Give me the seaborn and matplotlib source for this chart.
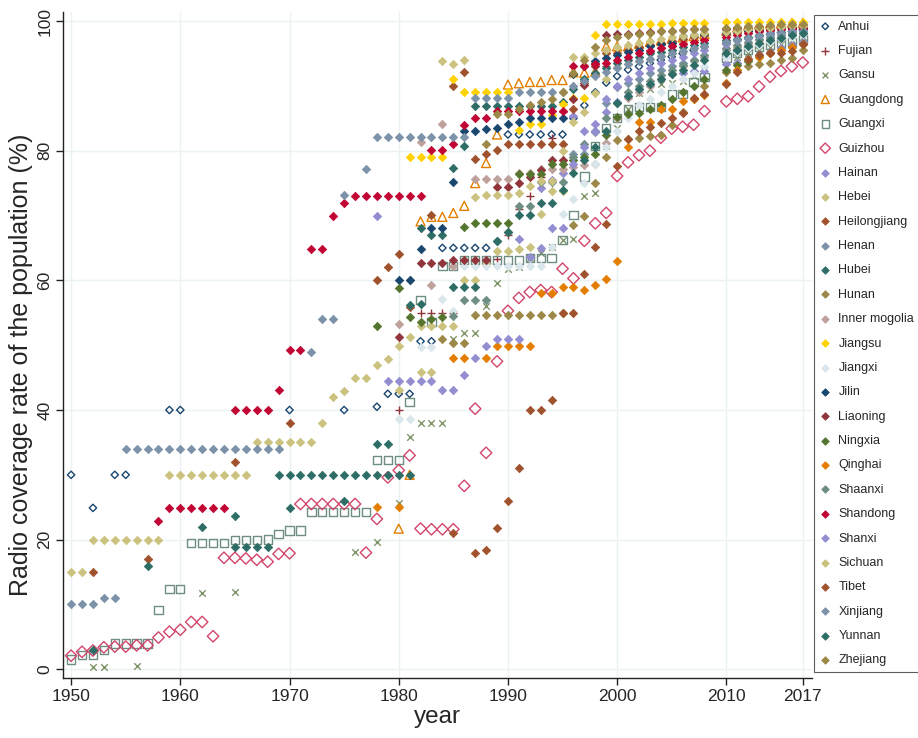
import matplotlib
matplotlib.use("Agg")
import matplotlib.pyplot as plt
import seaborn as sns

sns.set_theme(style="white")
plt.rcParams['font.family'] = ['Liberation Sans', 'DejaVu Sans']

EARLY = list(range(1950, 2009))
LATE = list(range(2010, 2018))

# ---------------- data: radio coverage rate (%) by province ----------------
anhui_yr = [1950, 1952, 1954, 1955, 1959, 1960, 1970, 1975, 1978, 1979, 1980, 1981,
            1982, 1983, 1984, 1985, 1986, 1987, 1988, 1990, 1991, 1992, 1993, 1994,
            1995, 1996, 1997, 1998, 1999, 2000, 2001, 2002, 2003, 2004, 2005, 2006,
            2007, 2008] + LATE
anhui_pct = [30.0, 24.9, 30.0, 30.0, 40.0, 40.0, 40.0, 40.0, 40.5, 42.5, 42.5, 42.5,
             50.6, 50.6, 65.0, 65.0, 65.0, 65.0, 65.0, 82.5, 82.5, 82.5, 82.5, 82.5,
             82.5, 85.0, 87.0, 89.0, 90.5, 91.5, 92.5, 93.0, 93.5, 94.0, 94.5, 95.0,
             95.5, 96.0, 96.5, 97.0, 97.3, 97.6, 97.9, 98.2, 98.4, 98.6]

fujian_yr = [1980, 1982, 1983, 1984, 1985, 1989, 1990, 1991, 1992, 1993, 1994, 1995,
             1996, 1997, 1998, 1999, 2000, 2001, 2002, 2003, 2004, 2005, 2006, 2007,
             2008] + LATE
fujian_pct = [40.0, 55.0, 55.0, 55.0, 55.0, 63.3, 67.0, 71.0, 73.0, 76.0, 82.0, 86.0,
              90.0, 90.9, 92.0, 93.0, 94.0, 94.5, 95.0, 95.5, 96.0, 96.3, 96.6, 97.0,
              97.3, 97.6, 97.9, 98.1, 98.3, 98.5, 98.7, 98.9, 99.0]

gansu_yr = [1952, 1953, 1956, 1962, 1965, 1976, 1978, 1980, 1981, 1982, 1983, 1984,
            1985, 1986, 1987, 1988, 1989, 1990, 1991, 1992, 1993, 1994, 1995, 1996,
            1997, 1998, 1999, 2000, 2001, 2002, 2003, 2004, 2005, 2006, 2007,
            2008] + LATE
gansu_pct = [0.4, 0.4, 0.5, 11.7, 11.9, 18.1, 19.6, 25.6, 35.9, 38.0, 38.0, 38.0,
             51.0, 51.9, 51.9, 56.0, 59.6, 61.8, 62.1, 63.5, 64.2, 65.2, 66.2, 66.4,
             73.0, 73.5, 80.7, 83.5, 86.5, 88.9, 89.5, 90.3, 90.5, 90.8, 91.5,
             92.5, 94.0, 94.5, 95.0, 95.5, 96.0, 96.5, 97.0, 97.5]

guangdong_yr = list(range(1980, 2009)) + LATE
guangdong_pct = [21.7, 30.0, 69.1, 69.8, 69.8, 70.4, 71.5, 75.0, 78.1, 82.5,
                 90.2, 90.4, 90.6, 90.6, 90.9, 90.9, 92.1, 92.0, 92.2, 96.1,
                 96.1, 96.1, 96.5, 96.8, 97.0, 97.3, 97.5, 97.7, 98.0,
                 98.5, 99.0, 99.3, 99.5, 99.6, 99.6, 99.7, 99.7]

guangxi_yr = EARLY + LATE
guangxi_pct = [1.5, 2.2, 2.2, 3.0, 4.0, 4.0, 4.0, 4.0, 9.1, 12.4,
               12.4, 19.5, 19.5, 19.5, 19.5, 19.9, 19.9, 19.9, 20.0, 20.9,
               21.4, 21.4, 24.3, 24.3, 24.3, 24.3, 24.3, 24.3, 32.3, 32.3,
               32.3, 41.2, 57.0, 53.6, 62.2, 62.2, 63.1, 63.1, 63.1, 63.1,
               63.1, 63.1, 63.4, 63.4, 63.4, 66.2, 70.1, 76.0, 80.7, 83.5,
               85.0, 86.4, 86.7, 86.7, 86.7, 88.7, 88.7, 90.6, 91.4,
               94.4, 95.1, 95.5, 96.0, 96.3, 96.7, 96.8, 97.2]

guizhou_yr = EARLY + LATE
guizhou_pct = [2.1, 2.7, 2.9, 3.4, 3.5, 3.5, 3.7, 3.7, 4.9, 5.8,
               6.1, 7.3, 7.3, 5.1, 17.2, 17.2, 17.1, 16.9, 16.6, 17.8,
               17.9, 25.5, 25.5, 25.5, 25.5, 25.5, 25.5, 18.0, 23.2, 29.6,
               30.7, 33.0, 21.7, 21.6, 21.6, 21.6, 28.3, 40.2, 33.4, 47.5,
               55.3, 57.3, 58.2, 58.5, 58.2, 61.8, 60.3, 66.1, 68.8, 70.4,
               76.1, 78.2, 79.3, 80.0, 82.0, 83.4, 83.7, 84.0, 86.1,
               87.6, 88.0, 88.4, 89.9, 91.4, 92.3, 93.0, 93.6]

hainan_yr = [1991] + list(range(1993, 2009)) + LATE
hainan_pct = [66.4, 74.2, 75.5, 76.5, 85.3, 83.1, 84.1, 85.9, 87.5, 88.5, 89.5,
              90.3, 91.0, 91.8, 92.0, 92.3, 92.3,
              93.4, 93.6, 94.2, 94.8, 95.3, 95.8, 96.3, 96.8]

hebei_yr = EARLY + LATE
hebei_pct = [15.0, 15.0, 20.0, 20.0, 20.0, 20.0, 20.0, 20.0, 20.0, 30.0,
             30.0, 30.0, 30.0, 30.0, 30.0, 30.0, 30.0, 35.0, 35.0, 35.0,
             35.0, 35.0, 35.0, 38.0, 42.0, 43.0, 45.0, 45.0, 47.0, 47.8,
             49.9, 51.2, 52.9, 52.9, 52.9, 52.9, 60.1, 60.1, 62.5, 64.5,
             64.5, 64.8, 65.2, 70.3, 73.8, 73.8, 84.5, 86.0, 88.9, 91.0,
             92.9, 93.3, 93.8, 94.2, 94.6, 95.0, 95.4, 95.8, 96.2,
             96.8, 97.2, 97.5, 97.8, 98.0, 98.3, 98.5, 98.7]

heilongjiang_yr = [1952, 1957, 1965, 1970, 1978, 1979, 1980, 1981, 1983] + \
    list(range(1985, 2009)) + LATE
heilongjiang_pct = [15.0, 17.0, 32.0, 38.0, 60.0, 62.0, 64.1, 55.9, 70.1,
                    90.0, 92.1, 78.7, 79.5, 80.1, 81.0, 81.0, 81.0, 81.0, 81.0,
                    81.0, 86.5, 90.5, 93.5, 95.0, 95.0, 95.5, 96.0, 96.3, 96.6,
                    96.9, 97.2, 97.5, 97.8,
                    98.0, 98.2, 98.4, 98.6, 98.8, 99.0, 99.1, 99.2]

henan_yr = list(range(1996, 2009)) + LATE
henan_pct = [79.5, 79.5, 82.9, 87.4, 89.9, 90.5, 91.0, 92.0, 92.5, 93.0, 93.5,
             94.0, 94.5, 95.5, 96.0, 96.5, 97.0, 97.3, 97.5, 97.8, 98.0]

hubei_yr = list(range(1965, 2009)) + LATE
hubei_pct = [18.9, 18.9, 18.9, 18.9, 30.0, 30.0, 30.0, 30.0, 30.0, 30.0,
             30.0, 30.0, 30.0, 30.0, 30.0, 30.0, 30.0, 68.0, 67.0, 67.0,
             77.4, 80.7, 86.9, 86.9, 86.9, 86.9, 86.9, 86.9, 86.9, 86.9,
             87.5, 89.5, 91.0, 92.0, 92.8, 93.5, 94.0, 94.5, 95.0, 95.3,
             95.6, 96.0, 96.3, 96.6,
             97.0, 97.3, 97.6, 97.9, 98.1, 98.3, 98.5, 98.7]

hunan_yr = list(range(1985, 2009)) + LATE
hunan_pct = [50.4, 50.4, 54.7, 54.7, 54.7, 54.7, 54.7, 54.7, 54.7, 54.7,
             55.0, 68.5, 70.0, 75.0, 79.0, 81.6, 81.8, 81.9, 82.2, 82.4,
             84.0, 86.0, 88.0, 90.0,
             92.2, 92.5, 93.0, 93.3, 93.6, 94.0, 94.3, 95.5]

inner_mongolia_yr = [1980, 1981, 1982, 1983, 1984, 1985] + list(range(1987, 2009)) + LATE
inner_mongolia_pct = [53.3, 60.0, 81.4, 59.3, 84.1, 62.2,
                      75.7, 75.7, 75.7, 75.7, 76.5, 76.5, 77.1, 77.1, 77.1, 77.5,
                      77.8, 77.9, 81.2, 85.0, 88.1, 89.0, 90.0, 91.0, 92.0, 93.0,
                      93.8, 94.5,
                      95.5, 96.0, 96.5, 97.0, 97.4, 97.8, 98.1, 98.4]

jiangsu_yr = list(range(1981, 2009)) + LATE
jiangsu_pct = [79.1, 79.1, 79.1, 79.1, 91.1, 89.1, 89.1, 89.1, 89.1, 89.1,
               83.2, 84.1, 84.1, 85.5, 87.2, 88.1, 88.1, 97.8, 99.5, 99.5,
               99.5, 99.6, 99.6, 99.6, 99.7, 99.7, 99.7, 99.7,
               99.8, 99.8, 99.8, 99.9, 99.9, 99.9, 99.9, 99.9]

jiangxi_yr = list(range(1980, 2009)) + LATE
jiangxi_pct = [38.6, 38.6, 49.7, 49.7, 57.1, 55.2, 62.2, 62.2, 62.2, 62.2,
               62.2, 62.2, 62.2, 62.2, 65.2, 70.3, 72.5, 75.0, 78.0, 80.5,
               83.0, 85.0, 87.0, 88.0, 89.0, 90.0, 91.0, 92.0, 93.0,
               94.5, 95.2, 95.8, 96.3, 96.8, 97.2, 97.6, 98.0]

jilin_yr = list(range(1980, 2009)) + LATE
jilin_pct = [60.1, 60.1, 64.9, 68.0, 68.0, 75.2, 83.1, 83.1, 83.3, 83.5,
             84.1, 84.4, 85.1, 85.1, 85.1, 85.1, 91.8, 93.1, 93.8, 94.3,
             94.8, 95.2, 95.6, 96.1, 96.4, 96.6, 97.7, 97.8, 98.0,
             98.2, 98.4, 98.5, 98.6, 98.7, 98.8, 98.9, 99.0]

liaoning_yr = [1980] + list(range(1982, 2009)) + LATE
liaoning_pct = [51.2, 62.6, 62.6, 62.6, 63.1, 63.1, 63.1, 63.1, 74.4, 74.4,
                75.0, 76.0, 77.0, 78.5, 78.5, 88.0, 90.1, 93.1, 97.8, 98.0,
                98.0, 98.2, 98.3, 98.4, 98.5, 98.6, 98.7, 98.8,
                98.8, 98.9, 99.0, 99.0, 99.1, 99.1, 99.2, 99.2]

ningxia_yr = [1978, 1980, 1981, 1982, 1983, 1984] + list(range(1986, 2009)) + LATE
ningxia_pct = [53.0, 58.8, 54.3, 53.6, 54.0, 54.3,
               68.3, 68.9, 68.8, 68.8, 68.8, 76.4, 76.4, 76.4, 78.0, 78.0,
               78.5, 79.0, 79.5, 82.4, 85.2, 85.7, 85.8, 86.5, 87.0, 88.0,
               89.0, 90.0, 91.0,
               92.5, 93.2, 93.8, 94.4, 95.0, 95.5, 96.0, 96.5]

qinghai_yr = [1978, 1980, 1985, 1986] + list(range(1988, 2009)) + LATE
qinghai_pct = [25.0, 25.0, 48.0, 48.0,
               48.0, 49.9, 49.9, 49.9, 49.9, 58.1, 58.1, 59.0, 59.0, 58.5,
               59.3, 60.2, 63.0, 80.6, 84.5, 84.5, 86.5, 86.5, 87.6, 88.0,
               88.6,
               90.4, 92.5, 94.1, 94.5, 95.0, 95.5, 96.0, 96.5]

shaanxi_yr = list(range(1985, 2009)) + LATE
shaanxi_pct = [54.5, 57.0, 57.0, 57.0, 66.0, 67.4, 71.5, 71.5, 75.1, 75.1,
               75.1, 79.0, 81.0, 83.0, 85.0, 87.4, 89.0, 90.0, 90.8, 91.6,
               92.4, 93.2, 94.0, 94.7,
               95.8, 96.3, 96.8, 97.2, 97.5, 97.8, 98.0, 98.2]

shandong_yr = list(range(1958, 2009)) + LATE
shandong_pct = [22.9, 24.9, 24.9, 24.9, 24.9, 24.9, 24.9, 40.0, 40.0, 40.0,
                40.0, 43.1, 49.2, 49.2, 64.9, 64.9, 70.0, 72.0, 73.0, 73.0,
                73.0, 73.0, 73.0, 73.0, 73.0, 80.1, 80.1, 81.0, 84.0, 85.0,
                85.0, 86.2, 86.2, 86.2, 86.2, 86.2, 86.2, 86.2, 93.0, 93.0,
                93.3, 93.6, 94.0, 94.5, 95.0, 95.4, 95.8, 96.2, 96.5, 96.8,
                97.1,
                97.6, 97.9, 98.2, 98.4, 98.6, 98.7, 98.8, 98.9]

shanxi_yr = list(range(1978, 2009)) + LATE
shanxi_pct = [70.0, 44.5, 44.5, 44.5, 44.5, 44.5, 43.1, 43.1, 45.4, 48.0,
              49.9, 51.0, 51.0, 51.0, 63.6, 65.0, 68.0, 68.0, 78.0, 80.5,
              83.0, 88.0, 90.0, 91.0, 92.0, 92.8, 93.5, 94.0, 94.5, 95.0,
              95.5,
              96.5, 97.0, 97.4, 97.7, 98.0, 98.2, 98.4, 98.5]

sichuan_yr = [1980] + list(range(1982, 2009)) + LATE
sichuan_pct = [43.1, 45.9, 45.9, 93.9, 93.3, 94.0, 72.8, 73.2, 73.2, 73.2,
               73.5, 74.5, 75.4, 75.4, 80.0, 94.4, 94.4, 95.0, 95.5, 96.0,
               96.3, 96.6, 96.9, 97.2, 97.5, 97.7, 97.9, 98.1,
               98.3, 98.5, 98.7, 98.9, 99.0, 99.1, 99.2, 99.3]

tibet_yr = [1985] + list(range(1987, 2009)) + LATE
tibet_pct = [21.0, 18.0, 18.4, 21.8, 26.0, 31.1, 40.0, 40.0, 41.6, 55.0,
             55.0, 61.0, 65.1, 68.7, 77.7, 81.8, 83.1, 83.6, 84.2, 85.0,
             85.8, 88.1, 88.8,
             90.3, 92.2, 94.1, 94.8, 95.0, 95.1, 95.4, 96.5]

xinjiang_yr = list(range(1950, 1970)) + [1972, 1973, 1974, 1975] + \
    list(range(1977, 2009)) + LATE
xinjiang_pct = [10.0, 10.0, 10.0, 11.0, 11.0, 34.0, 34.0, 34.0, 34.0, 34.0,
                34.0, 34.0, 34.0, 34.0, 34.0, 34.0, 34.0, 34.0, 34.0, 34.0,
                49.0, 54.0, 54.0, 73.1,
                77.1, 82.1, 82.1, 82.1, 82.1, 82.1, 82.1, 82.1, 82.1, 82.1,
                88.1, 88.1, 88.1, 88.1, 89.1, 89.1, 89.1, 89.1, 89.1, 90.0,
                90.8, 91.5, 92.2, 92.8, 93.3, 93.8, 94.2, 94.6, 95.0, 95.4,
                95.8, 96.2,
                96.8, 97.1, 97.4, 97.7, 97.9, 98.1, 98.3, 98.5]

yunnan_yr = [1952, 1957, 1962, 1965, 1970, 1975, 1978, 1979, 1981, 1982,
             1985, 1986, 1987] + list(range(1989, 2009)) + LATE
yunnan_pct = [3.0, 16.0, 21.9, 23.6, 24.9, 26.0, 34.8, 34.8, 56.2, 56.4,
              59.0, 59.0, 59.0,
              66.1, 67.5, 70.1, 70.1, 72.0, 72.0, 74.0, 76.5, 78.5, 80.5,
              83.0, 87.4, 88.5, 89.5, 90.3, 91.0, 91.8, 92.5, 93.2, 94.0,
              95.0, 95.6, 96.1, 96.6, 97.0, 97.4, 97.8, 98.1]

zhejiang_yr = [1984] + list(range(1988, 2009)) + LATE
zhejiang_pct = [50.9, 81.0, 85.7, 85.7, 86.5, 87.0, 87.5, 88.0, 89.0, 92.0,
                94.0, 96.0, 97.0, 97.5, 97.8, 98.0, 98.2, 98.4, 98.5, 98.6,
                98.7, 98.8,
                99.0, 99.1, 99.2, 99.3, 99.4, 99.5, 99.5, 99.6]

# Stata s2color palette
NAVY, MAROON, FOREST, DKORANGE, TEAL = "#1a476f", "#90353b", "#55752f", "#e37e00", "#6e8e84"
CRANBERRY, LAVENDER, KHAKI, SIENNA, EMIDBLUE = "#c10534", "#938dd2", "#cac27e", "#a0522d", "#7b92a8"
EMERALD, BROWN, EROSE, GOLD, BLUISHGRAY = "#2d6d66", "#9c8847", "#bfa19c", "#ffd200", "#d9e6eb"

# (label, years, values, colour, marker, hollow, size)
series = [
    ("Anhui", anhui_yr, anhui_pct, NAVY, "D", True, 14),
    ("Fujian", fujian_yr, fujian_pct, MAROON, "+", False, 40),
    ("Gansu", gansu_yr, gansu_pct, "#7f9467", "x", False, 22),
    ("Guangdong", guangdong_yr, guangdong_pct, DKORANGE, "^", True, 42),
    ("Guangxi", guangxi_yr, guangxi_pct, TEAL, "s", True, 36),
    ("Guizhou", guizhou_yr, guizhou_pct, "#d2456a", "D", True, 34),
    ("Hainan", hainan_yr, hainan_pct, LAVENDER, "D", False, 18),
    ("Hebei", hebei_yr, hebei_pct, KHAKI, "D", False, 18),
    ("Heilongjiang", heilongjiang_yr, heilongjiang_pct, SIENNA, "D", False, 18),
    ("Henan", henan_yr, henan_pct, EMIDBLUE, "D", False, 18),
    ("Hubei", hubei_yr, hubei_pct, EMERALD, "D", False, 18),
    ("Hunan", hunan_yr, hunan_pct, BROWN, "D", False, 18),
    ("Inner mogolia", inner_mongolia_yr, inner_mongolia_pct, EROSE, "D", False, 18),
    ("Jiangsu", jiangsu_yr, jiangsu_pct, GOLD, "D", False, 18),
    ("Jiangxi", jiangxi_yr, jiangxi_pct, BLUISHGRAY, "D", False, 18),
    ("Jilin", jilin_yr, jilin_pct, NAVY, "D", False, 18),
    ("Liaoning", liaoning_yr, liaoning_pct, MAROON, "D", False, 18),
    ("Ningxia", ningxia_yr, ningxia_pct, FOREST, "D", False, 18),
    ("Qinghai", qinghai_yr, qinghai_pct, DKORANGE, "D", False, 18),
    ("Shaanxi", shaanxi_yr, shaanxi_pct, TEAL, "D", False, 18),
    ("Shandong", shandong_yr, shandong_pct, CRANBERRY, "D", False, 18),
    ("Shanxi", shanxi_yr, shanxi_pct, LAVENDER, "D", False, 18),
    ("Sichuan", sichuan_yr, sichuan_pct, KHAKI, "D", False, 18),
    ("Tibet", tibet_yr, tibet_pct, SIENNA, "D", False, 18),
    ("Xinjiang", xinjiang_yr, xinjiang_pct, EMIDBLUE, "D", False, 18),
    ("Yunnan", yunnan_yr, yunnan_pct, EMERALD, "D", False, 18),
    ("Zhejiang", zhejiang_yr, zhejiang_pct, BROWN, "D", False, 18),
]

fig = plt.figure(figsize=(9.18, 7.38), dpi=100)
ax = fig.add_axes([0.069, 0.0813, 0.8156, 0.9024])

for name, yrs, vals, col, mk, hollow, size in series:
    assert len(yrs) == len(vals), name
    if mk in ("+", "x"):
        sns.scatterplot(x=yrs, y=vals, ax=ax, marker=mk, s=size, color=col,
                        linewidth=1.0, label=name, zorder=3)
    elif hollow:
        sns.scatterplot(x=yrs, y=vals, ax=ax, marker=mk, s=size, color=col,
                        facecolor="none", edgecolor=col, linewidth=1.0,
                        label=name, zorder=3)
    else:
        sns.scatterplot(x=yrs, y=vals, ax=ax, marker=mk, s=size, color=col,
                        edgecolor=col, linewidth=0.6, label=name, zorder=3)

xticks = [1950, 1960, 1970, 1980, 1990, 2000, 2010, 2017]
yticks = [0, 20, 40, 60, 80, 100]
ax.set_xlim(1949.29, 2017.85)
ax.set_ylim(-1.34, 101.39)
ax.set_xticks(xticks)
ax.set_yticks(yticks)
ax.set_xticklabels([str(t) for t in xticks], fontsize=12.5)
ax.set_yticklabels([str(t) for t in yticks], fontsize=12.5, rotation=90, va="center")
ax.grid(True, color="#eaf2f3", linewidth=1.0, zorder=0)
ax.set_axisbelow(True)

for side in ("top", "right"):
    ax.spines[side].set_visible(False)
for side in ("left", "bottom"):
    ax.spines[side].set_color("#222222")
    ax.spines[side].set_linewidth(1.0)
ax.tick_params(axis="both", which="both", direction="out", length=5, width=1,
               color="#222222", pad=3, left=True, bottom=True)

ax.set_xlabel("year", fontsize=17.5)
ax.set_ylabel("Radio coverage rate of the population (%)", fontsize=18)
ax.xaxis.set_label_coords(0.5, -0.042)
ax.yaxis.set_label_coords(-0.040, 0.47)

leg = ax.legend(loc="upper left", bbox_to_anchor=(814 / 918, 1 - 15 / 738),
                bbox_transform=fig.transFigure, fontsize=9, frameon=True,
                fancybox=False, edgecolor="#333333", borderpad=0.45,
                labelspacing=0.99, handlelength=0.9, handletextpad=0.6,
                borderaxespad=0, markerscale=0.9)
leg.get_frame().set_linewidth(0.8)

fig.savefig("out.png", dpi=100, facecolor="white")
